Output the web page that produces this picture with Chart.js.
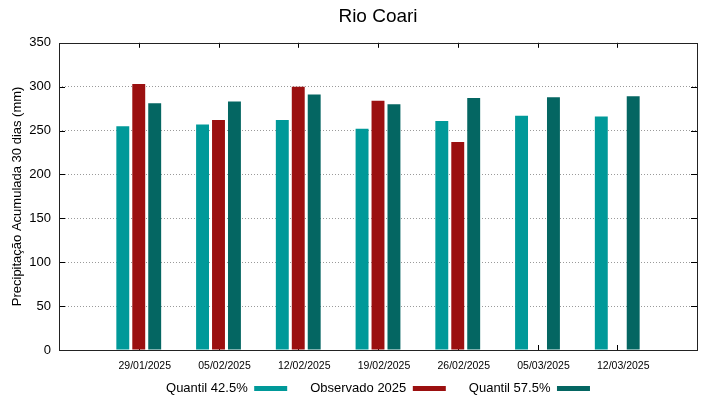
<!DOCTYPE html>
<html>
<head>
<meta charset="utf-8">
<title>Rio Coari</title>
<script src="https://cdn.jsdelivr.net/npm/chart.js@4/dist/chart.umd.min.js"></script>
<style>
  html, body { margin: 0; padding: 0; background: #fff; }
  #wrap { width: 719px; height: 399px; }
</style>
</head>
<body>
<div id="wrap"><canvas id="rioChart" width="719" height="399"></canvas></div>
<script>
// dates of each 30-day window
const dates = ['29/01/2025', '05/02/2025', '12/02/2025', '19/02/2025', '26/02/2025', '05/03/2025', '12/03/2025'];

// precipitation (mm)
const quantil425 = [255, 257, 262, 252, 261, 267, 266];
const observado2025 = [303, 262, 300, 284, 237, null, null];
const quantil575 = [281, 283, 291, 280, 287, 288, 289];

const yTicks = [0, 50, 100, 150, 200, 250, 300, 350];

// gnuplot-style x range: one empty slot on each side
const pad = arr => [null, ...arr, null];
const labels = ['', ...dates, ''];

const font = "'Liberation Sans', Arial, sans-serif";

// frame box and inward ticks, like the original plot
const frameTicks = {
  id: 'frameTicks',
  beforeDatasetsDraw(chart) {
    const { ctx, chartArea: a, scales: { x, y } } = chart;
    ctx.save();
    ctx.strokeStyle = '#000';
    ctx.lineWidth = 1;
    ctx.beginPath();
    x.ticks.forEach((t, i) => {
      if (!labels[t.value]) return;
      const px = Math.round(x.getPixelForTick(i)) + 0.5;
      ctx.moveTo(px, a.bottom); ctx.lineTo(px, a.bottom - 5);
      ctx.moveTo(px, a.top); ctx.lineTo(px, a.top + 5);
    });
    y.ticks.forEach((t, i) => {
      const py = Math.round(y.getPixelForTick(i)) + 0.5;
      ctx.moveTo(a.left, py); ctx.lineTo(a.left + 6, py);
      ctx.moveTo(a.right, py); ctx.lineTo(a.right - 6, py);
    });
    ctx.stroke();
    ctx.restore();
  },
  afterDatasetsDraw(chart) {
    const { ctx, chartArea: a } = chart;
    ctx.save();
    ctx.strokeStyle = '#222';
    ctx.lineWidth = 1;
    ctx.strokeRect(Math.round(a.left) + 0.5, Math.round(a.top) + 0.5,
      Math.round(a.right - a.left), Math.round(a.bottom - a.top));
    ctx.restore();
  }
};

new Chart(document.getElementById('rioChart'), {
  type: 'bar',
  data: {
    labels: labels,
    datasets: [
      { label: 'Quantil 42.5%', data: pad(quantil425), backgroundColor: '#009999', borderWidth: 0 },
      { label: 'Observado 2025', data: pad(observado2025), backgroundColor: '#9b1010', borderWidth: 0 },
      { label: 'Quantil 57.5%', data: pad(quantil575), backgroundColor: '#046662', borderWidth: 0 }
    ]
  },
  options: {
    responsive: false,
    animation: false,
    categoryPercentage: 0.6,
    barPercentage: 0.81,
    layout: { padding: { left: 0, right: 22, top: 0, bottom: -6 } },
    plugins: {
      title: {
        display: true,
        text: 'Rio Coari',
        fullSize: false,
        color: '#000',
        font: { family: font, size: 19, weight: 'normal' },
        padding: { top: 5, bottom: 15 }
      },
      legend: {
        position: 'bottom',
        fullSize: false,
        rtl: true,
        reverse: true,
        labels: {
          color: '#000',
          font: { family: font, size: 13 },
          boxWidth: 33,
          boxHeight: 5,
          padding: 23
        }
      },
      tooltip: { enabled: false }
    },
    scales: {
      x: {
        offset: false,
        grid: { display: false, drawTicks: false },
        border: { display: false },
        ticks: {
          color: '#000',
          font: { family: font, size: 10.5 },
          autoSkip: false,
          maxRotation: 0,
          padding: 10,
          labelOffset: 6
        },
        afterFit(scale) {
          scale.height = 9;
          // labels sit below this thin box, so don't clip them to it
          scale._computeLabelArea = () => undefined;
        }
      },
      y: {
        min: 0,
        max: 350,
        afterBuildTicks(scale) { scale.ticks = yTicks.map(v => ({ value: v })); },
        grid: {
          drawTicks: false,
          color: c => (c.tick.value === 0 || c.tick.value === 350) ? 'rgba(0,0,0,0)' : '#9a9a9a',
          lineWidth: 1
        },
        border: { display: false, dash: [1, 2] },
        ticks: {
          color: '#000',
          font: { family: font, size: 13 },
          padding: 8
        },
        title: {
          display: true,
          text: 'Precipitação Acumulada 30 dias (mm)',
          color: '#000',
          font: { family: font, size: 13 },
          padding: { top: 10, bottom: 0 }
        },
        afterFit(scale) { scale.width = 59; }
      }
    }
  },
  plugins: [frameTicks]
});
</script>
</body>
</html>
